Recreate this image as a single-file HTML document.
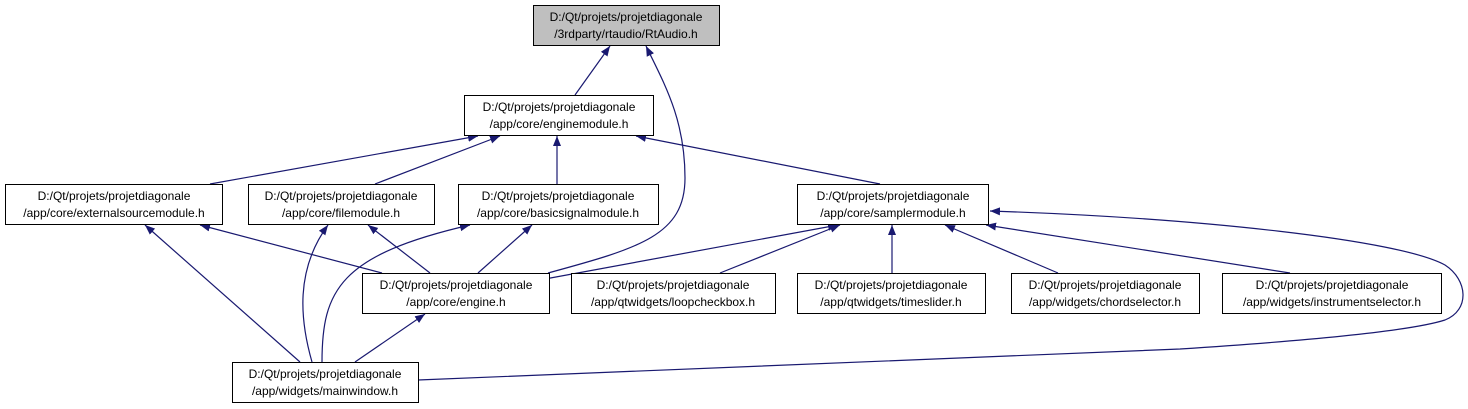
<!DOCTYPE html>
<html><head><meta charset="utf-8"><style>
html,body{margin:0;padding:0;background:#fff;}
svg{display:block;}
text{font-family:"Liberation Sans",Helvetica,Arial,sans-serif;font-size:12px;fill:#000;}
</style></head><body>
<svg width="1468" height="409" viewBox="0 0 1468 409" xmlns="http://www.w3.org/2000/svg">
<defs>
<marker id="a" viewBox="0 0 10 10" refX="10" refY="5" markerWidth="10" markerHeight="10" markerUnits="userSpaceOnUse" orient="auto">
<path d="M0,1 L10,5 L0,9 Z" fill="#191970"/>
</marker>
</defs>
<g fill="none" stroke="#191970" stroke-width="1.2" marker-end="url(#a)">
<path d="M575,95 L610,46"/>
<path d="M548,273 C640,248 685,235 685,178 C685,120 665,85 646,46"/>
<path d="M210,184 L478,136"/>
<path d="M375,184 L500,136"/>
<path d="M557,184 L557,136"/>
<path d="M880,184 L636,136"/>
<path d="M382,273 L200,225"/>
<path d="M300,362 L145,225"/>
<path d="M312,362 C300,320 295,270 328,225"/>
<path d="M430,273 L368,225"/>
<path d="M322,362 C322,290 340,255 470,225"/>
<path d="M478,273 L532,225"/>
<path d="M545,279 L838,225"/>
<path d="M720,273 L840,225"/>
<path d="M892,273 L892,225"/>
<path d="M1058,273 L945,225"/>
<path d="M1290,273 L986,225"/>
<path d="M418,380 L1180,349 C1350,338 1420,328 1445,320 C1470,310 1468,280 1445,265 C1400,240 1200,218 990,211"/>
<path d="M355,362 L425,314"/>
</g>
<g stroke="#000" stroke-width="1">
<rect x="533.5" y="5.5" width="186" height="40" fill="#bfbfbf"/>
<rect x="464.5" y="95.5" width="189" height="40" fill="#fff"/>
<rect x="5.5" y="184.5" width="217" height="40" fill="#fff"/>
<rect x="248.5" y="184.5" width="186" height="40" fill="#fff"/>
<rect x="458.5" y="184.5" width="200" height="40" fill="#fff"/>
<rect x="797.5" y="184.5" width="191" height="40" fill="#fff"/>
<rect x="362.5" y="273.5" width="187" height="40" fill="#fff"/>
<rect x="571.5" y="273.5" width="204" height="40" fill="#fff"/>
<rect x="797.5" y="273.5" width="188" height="40" fill="#fff"/>
<rect x="1011.5" y="273.5" width="188" height="40" fill="#fff"/>
<rect x="1222.5" y="273.5" width="219" height="40" fill="#fff"/>
<rect x="232.5" y="362.5" width="186" height="40" fill="#fff"/>
</g>
<g text-anchor="middle">
<text x="626" y="21">D:/Qt/projets/projetdiagonale</text><text x="626" y="38">/3rdparty/rtaudio/RtAudio.h</text>
<text x="559" y="111">D:/Qt/projets/projetdiagonale</text><text x="559" y="128">/app/core/enginemodule.h</text>
<text x="114" y="200">D:/Qt/projets/projetdiagonale</text><text x="114" y="217">/app/core/externalsourcemodule.h</text>
<text x="341" y="200">D:/Qt/projets/projetdiagonale</text><text x="341" y="217">/app/core/filemodule.h</text>
<text x="558" y="200">D:/Qt/projets/projetdiagonale</text><text x="558" y="217">/app/core/basicsignalmodule.h</text>
<text x="893" y="200">D:/Qt/projets/projetdiagonale</text><text x="893" y="217">/app/core/samplermodule.h</text>
<text x="456" y="289">D:/Qt/projets/projetdiagonale</text><text x="456" y="306">/app/core/engine.h</text>
<text x="673" y="289">D:/Qt/projets/projetdiagonale</text><text x="673" y="306">/app/qtwidgets/loopcheckbox.h</text>
<text x="891" y="289">D:/Qt/projets/projetdiagonale</text><text x="891" y="306">/app/qtwidgets/timeslider.h</text>
<text x="1105" y="289">D:/Qt/projets/projetdiagonale</text><text x="1105" y="306">/app/widgets/chordselector.h</text>
<text x="1332" y="289">D:/Qt/projets/projetdiagonale</text><text x="1332" y="306">/app/widgets/instrumentselector.h</text>
<text x="325" y="378">D:/Qt/projets/projetdiagonale</text><text x="325" y="395">/app/widgets/mainwindow.h</text>
</g>
</svg>
</body></html>
